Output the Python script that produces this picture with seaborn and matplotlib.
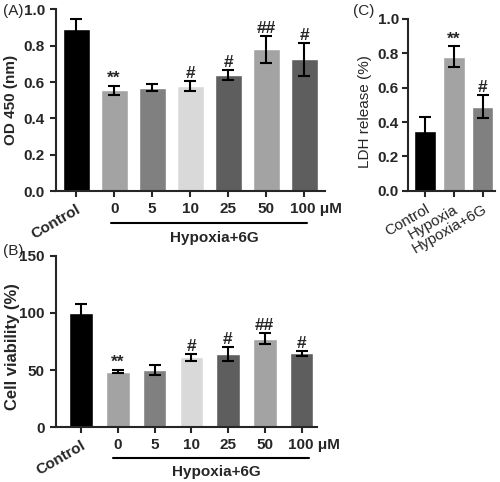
import matplotlib
matplotlib.use('Agg')
import matplotlib.pyplot as plt
import matplotlib.transforms as mtrans
import seaborn as sns
import pandas as pd

# panel A / B groups
groups = ['Control', '0', '5', '10', '25', '50', '100 μM']
bar_colors = ['#000000', '#a3a3a3', '#808080', '#d9d9d9', '#5e5e5e', '#a3a3a3', '#5e5e5e']

od_mean = [0.89, 0.555, 0.57, 0.58, 0.64, 0.78, 0.725]
od_err = [0.055, 0.025, 0.02, 0.028, 0.028, 0.075, 0.09]
od_marks = ['', '**', '', '#', '#', '##', '#']

via_mean = [100, 48.5, 50, 61, 64, 77.5, 64.5]
via_err = [8, 1.5, 4, 3, 6, 5, 2.5]
via_marks = ['', '**', '', '#', '#', '##', '#']

# panel C
ldh_groups = ['Control', 'Hypoxia', 'Hypoxia+6G']
ldh_colors = ['#000000', '#a3a3a3', '#808080']
ldh_mean = [0.35, 0.78, 0.49]
ldh_err = [0.08, 0.06, 0.065]
ldh_marks = ['', '**', '#']

sns.set_style('ticks')
plt.rcParams['font.family'] = ['Liberation Sans', 'DejaVu Sans']
plt.rcParams['font.weight'] = 'bold'
plt.rcParams['axes.linewidth'] = 1.5
plt.rcParams['xtick.major.width'] = 1.5
plt.rcParams['ytick.major.width'] = 1.5
plt.rcParams['xtick.major.size'] = 4.5
plt.rcParams['ytick.major.size'] = 4.5

fig = plt.figure(figsize=(5, 4.82), dpi=100)
axA = fig.add_axes([0.112, 0.603, 0.538, 0.378])
axB = fig.add_axes([0.112, 0.114, 0.522, 0.355])
axC = fig.add_axes([0.816, 0.604, 0.174, 0.357])


def panel(ax, cats, means, errs, colors, marks, width):
    df = pd.DataFrame({'g': cats, 'v': means})
    sns.barplot(data=df, x='g', y='v', hue='g', palette=colors, legend=False,
                width=width, saturation=1, ax=ax)
    ax.errorbar(range(len(cats)), means, yerr=errs, fmt='none', ecolor='black',
                elinewidth=1.5, capsize=4.5, capthick=1.5)
    for i, m in enumerate(marks):
        if m:
            ax.annotate(m, (i, means[i] + errs[i]), xytext=(0, 0),
                        textcoords='offset points', ha='center', va='bottom',
                        fontsize=12.5, fontweight='bold')
    sns.despine(ax=ax)
    ax.set_xlabel('')
    ax.tick_params(labelsize=11)
    for lab in ax.get_yticklabels():
        lab.set_fontweight('bold')


def hypoxia_bracket(ax, x0, x1, yl, yt):
    tr = mtrans.blended_transform_factory(ax.transData, ax.transAxes)
    ax.plot([x0, x1], [yl, yl], color='black', lw=1.5, transform=tr, clip_on=False)
    ax.text((x0 + x1) / 2 + 0.15, yt, 'Hypoxia+6G', transform=tr, ha='center',
            va='center', fontsize=11, fontweight='bold')


def fix_xlabels(ax, fig):
    labs = ax.get_xticklabels()
    for lab in labs:
        lab.set_fontweight('bold')
    labs[0].set_rotation(30)
    labs[0].set_ha('right')
    labs[0].set_va('top')
    labs[0].set_rotation_mode('anchor')
    off = mtrans.ScaledTranslation(0.12, 0, fig.dpi_scale_trans)
    labs[-1].set_transform(labs[-1].get_transform() + off)


def place_ylabel(ax, x, y):
    ax.yaxis.set_label_coords(x, y)
    ax.yaxis.label.set_va('center')


# (A)
panel(axA, groups, od_mean, od_err, bar_colors, od_marks, 0.71)
axA.set_ylim(0, 1.0)
axA.set_yticks([0.0, 0.2, 0.4, 0.6, 0.8, 1.0])
axA.set_yticklabels(['0.0', '0.2', '0.4', '0.6', '0.8', '1.0'])
axA.set_xlim(-0.53, 6.55)
axA.set_ylabel('OD 450 (nm)', fontsize=11, fontweight='bold')
place_ylabel(axA, -0.167, 0.5)
fix_xlabels(axA, fig)
hypoxia_bracket(axA, 0.92, 6.08, -0.173, -0.255)

# (B)
panel(axB, groups, via_mean, via_err, bar_colors, via_marks, 0.64)
axB.set_ylim(0, 150)
axB.set_yticks([0, 50, 100, 150])
axB.set_xlim(-0.68, 6.42)
axB.set_ylabel('Cell viability (%)', fontsize=12, fontweight='bold')
place_ylabel(axB, -0.165, 0.47)
fix_xlabels(axB, fig)
hypoxia_bracket(axB, 0.88, 6.2, -0.181, -0.263)

# (C)
panel(axC, ldh_groups, ldh_mean, ldh_err, ldh_colors, ldh_marks, 0.75)
axC.set_ylim(0, 1.0)
axC.set_yticks([0.0, 0.2, 0.4, 0.6, 0.8, 1.0])
axC.set_yticklabels(['0.0', '0.2', '0.4', '0.6', '0.8', '1.0'])
axC.set_xlim(-0.58, 2.43)
axC.tick_params(axis='y', pad=2)
axC.set_ylabel('LDH release (%)', fontsize=11, fontweight='normal')
place_ylabel(axC, -0.49, 0.46)
for lab in axC.get_xticklabels():
    lab.set_fontweight('normal')
    lab.set_rotation(30)
    lab.set_ha('right')
    lab.set_va('top')
    lab.set_rotation_mode('anchor')

fig.text(0.005, 0.977, '(A)', fontsize=11, fontweight='normal', va='center')
fig.text(0.005, 0.479, '(B)', fontsize=11, fontweight='normal', va='center')
fig.text(0.705, 0.977, '(C)', fontsize=11, fontweight='normal', va='center')

fig.savefig('out.png', dpi=100)
